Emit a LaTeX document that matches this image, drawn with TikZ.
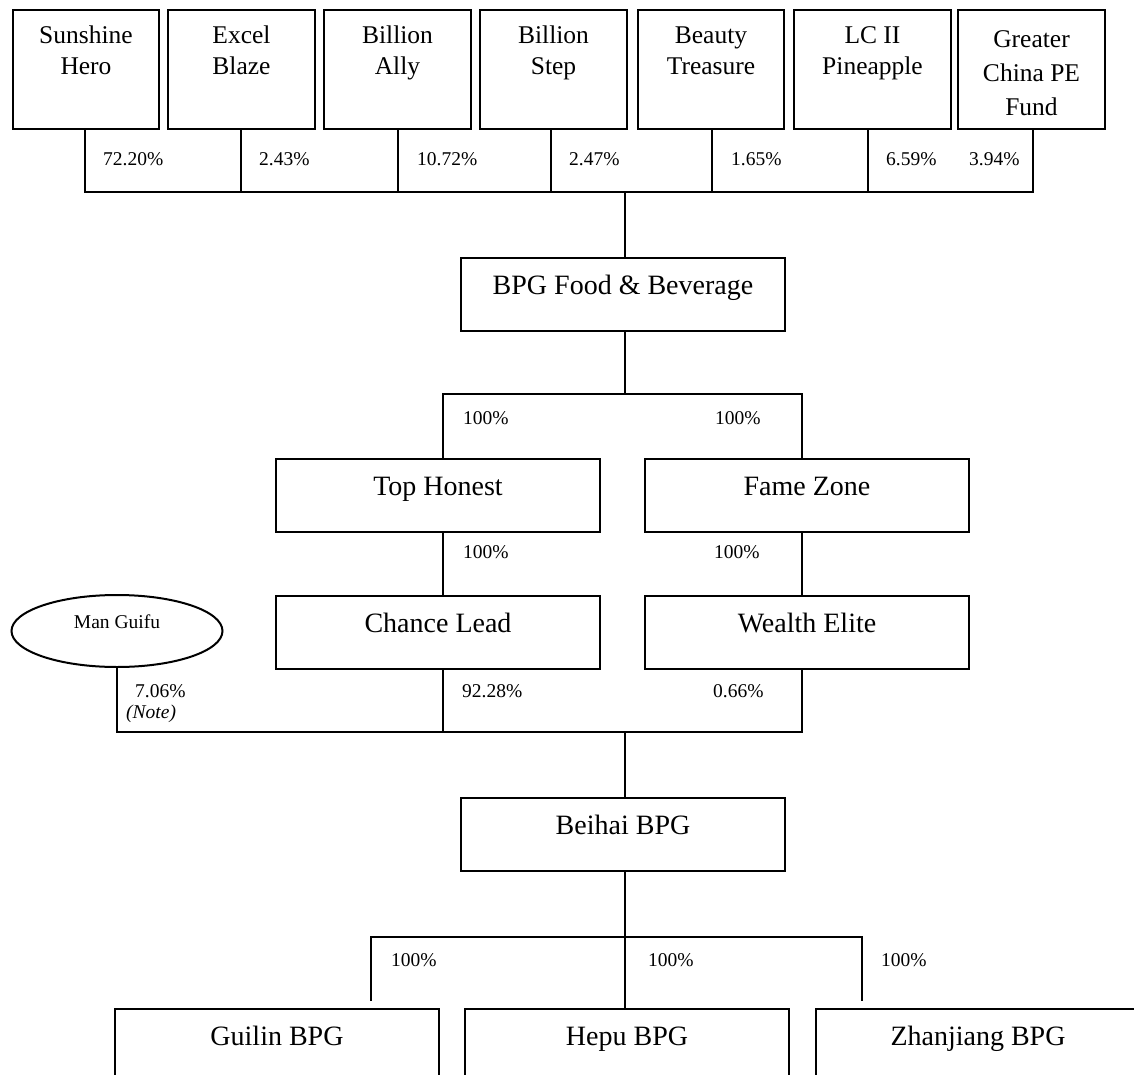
\documentclass[tikz,border=0pt]{standalone}
\usepackage{fontspec}
\setmainfont{Liberation Serif}
\usetikzlibrary{shapes.geometric,calc}
\begin{document}
\begin{tikzpicture}[x=1pt,y=-1pt,
  conn/.style={line width=2pt},
  topbox/.style={draw,line width=2pt,rectangle,anchor=north west,minimum height=119,inner sep=0},
  toptext/.style={anchor=north,inner sep=0,align=center,font=\fontsize{25.5}{31}\selectfont},
  midbox/.style={draw,line width=2pt,rectangle,anchor=north west,minimum width=324,minimum height=73,inner sep=0,font=\fontsize{28}{33}\selectfont,text height=20pt,text depth=20pt},
  pct/.style={anchor=base west,inner sep=0,font=\fontsize{19.5}{23}\selectfont},
]
\useasboundingbox (0,0) rectangle (1134,1075);
\clip (0,0) rectangle (1134,1075);

% top row
\node[topbox,minimum width=146] (sh) at (12,9) {};
\node[toptext] (shT) at ($(sh.north)+(0,14)$) {\rule{0pt}{20pt}Sunshine\\Hero};
\node[topbox,minimum width=147] (eb) at (167,9) {};
\node[toptext] (ebT) at ($(eb.north)+(0,14)$) {\rule{0pt}{20pt}Excel\\Blaze};
\node[topbox,minimum width=147] (ba) at (323,9) {};
\node[toptext] (baT) at ($(ba.north)+(0,14)$) {\rule{0pt}{20pt}Billion\\Ally};
\node[topbox,minimum width=147] (bs) at (479,9) {};
\node[toptext] (bsT) at ($(bs.north)+(0,14)$) {\rule{0pt}{20pt}Billion\\Step};
\node[topbox,minimum width=146] (bt) at (637,9) {};
\node[toptext] (btT) at ($(bt.north)+(0,14)$) {\rule{0pt}{20pt}Beauty\\Treasure};
\node[topbox,minimum width=157] (lc) at (793,9) {};
\node[toptext] (lcT) at ($(lc.north)+(0,14)$) {\rule{0pt}{20pt}LC II\\Pineapple};
\node[topbox,minimum width=147] (gc) at (957,9) {};
\node[toptext,font=\fontsize{25.5}{34}\selectfont] (gcT) at ($(gc.north)+(0,18)$) {\rule{0pt}{20pt}Greater\\China PE\\Fund};

\node[pct] (p1) at (103,166) {72.20\%};
\node[pct] (p2) at (259,166) {2.43\%};
\node[pct] (p3) at (417,166) {10.72\%};
\node[pct] (p4) at (569,166) {2.47\%};
\node[pct] (p5) at (731,166) {1.65\%};
\node[pct] (p6) at (886,166) {6.59\%};
\node[pct] (p7) at (969,166) {3.94\%};

\coordinate (b1) at (625,192);
\draw[conn] ($(sh.south)+(-1,0)$) -- ($(sh.south |- b1)+(-1,0)$) -- ($(gc.south |- b1)+(1.5,0)$) -- ($(gc.south)+(1.5,0)$);
\draw[conn] ($(eb.south)+(-0.5,0)$) -- ($(eb.south |- b1)+(-0.5,0)$);
\draw[conn] ($(ba.south)+(0.5,0)$) -- ($(ba.south |- b1)+(0.5,0)$);
\draw[conn] ($(bs.south)+(-2.5,0)$) -- ($(bs.south |- b1)+(-2.5,0)$);
\draw[conn] ($(bt.south)+(1,0)$) -- ($(bt.south |- b1)+(1,0)$);
\draw[conn] ($(lc.south)+(-4.5,0)$) -- ($(lc.south |- b1)+(-4.5,0)$);

% BPG Food & Beverage
\node[midbox] (bpg) at (460,257) {BPG Food \& Beverage};
\draw[conn] (b1) -- (b1 |- bpg.north);

\node[midbox] (th) at (275,458) {Top Honest};
\node[midbox] (fz) at (644,458) {Fame Zone};
\node[midbox] (cl) at (275,595) {Chance Lead};
\node[midbox] (we) at (644,595) {Wealth Elite};

\coordinate (b2) at (625,394);
\coordinate (b2l) at (443,394);
\coordinate (b2r) at (802,394);
\draw[conn] (b2 |- bpg.south) -- (b2);
\draw[conn] (b2l |- th.north) -- (b2l) -- (b2r) -- (b2r |- fz.north);
\draw[conn] (b2l |- th.south) -- (b2l |- cl.north);
\draw[conn] (b2r |- fz.south) -- (b2r |- we.north);

\node[pct] (q1) at (463,424) {100\%};
\node[pct] (q2) at (715,424) {100\%};
\node[pct] (q3) at (463,558) {100\%};
\node[pct] (q4) at (714,558) {100\%};

% Man Guifu
\node[draw,ellipse,line width=2pt,minimum width=211,minimum height=72,inner sep=0,font=\fontsize{19.5}{23}\selectfont,text height=14pt,text depth=20pt] (mg) at (117,631) {Man Guifu};

\coordinate (b3) at (625,732);
\draw[conn] (mg.south) -- (mg.south |- b3) -- (b2r |- b3) -- (b2r |- we.south);
\draw[conn] (b2l |- cl.south) -- (b2l |- b3);

\node[pct] (r1) at (135,697) {7.06\%};
\node[pct,font=\fontsize{19.5}{23}\selectfont\itshape] (r1n) at (126,718) {(Note)};
\node[pct] (r2) at (462,697) {92.28\%};
\node[pct] (r3) at (713,697) {0.66\%};

% Beihai BPG
\node[midbox] (bh) at (460,797) {Beihai BPG};
\draw[conn] (b3) -- (b3 |- bh.north);

% bottom row
\node[midbox] (gu) at (114,1008) {Guilin BPG};
\node[midbox] (hp) at (464,1008) {Hepu BPG};
\node[midbox] (zj) at (815,1008) {Zhanjiang BPG};

\coordinate (b4) at (625,937);
\coordinate (g4) at (371,1001);
\coordinate (z4) at (862,1001);
\draw[conn] (b4 |- bh.south) -- (b4 |- hp.north);
\draw[conn] (g4) -- (g4 |- b4) -- (z4 |- b4) -- (z4);

\node[pct] (s1) at (391,966) {100\%};
\node[pct] (s2) at (648,966) {100\%};
\node[pct] (s3) at (881,966) {100\%};
\end{tikzpicture}
\end{document}
